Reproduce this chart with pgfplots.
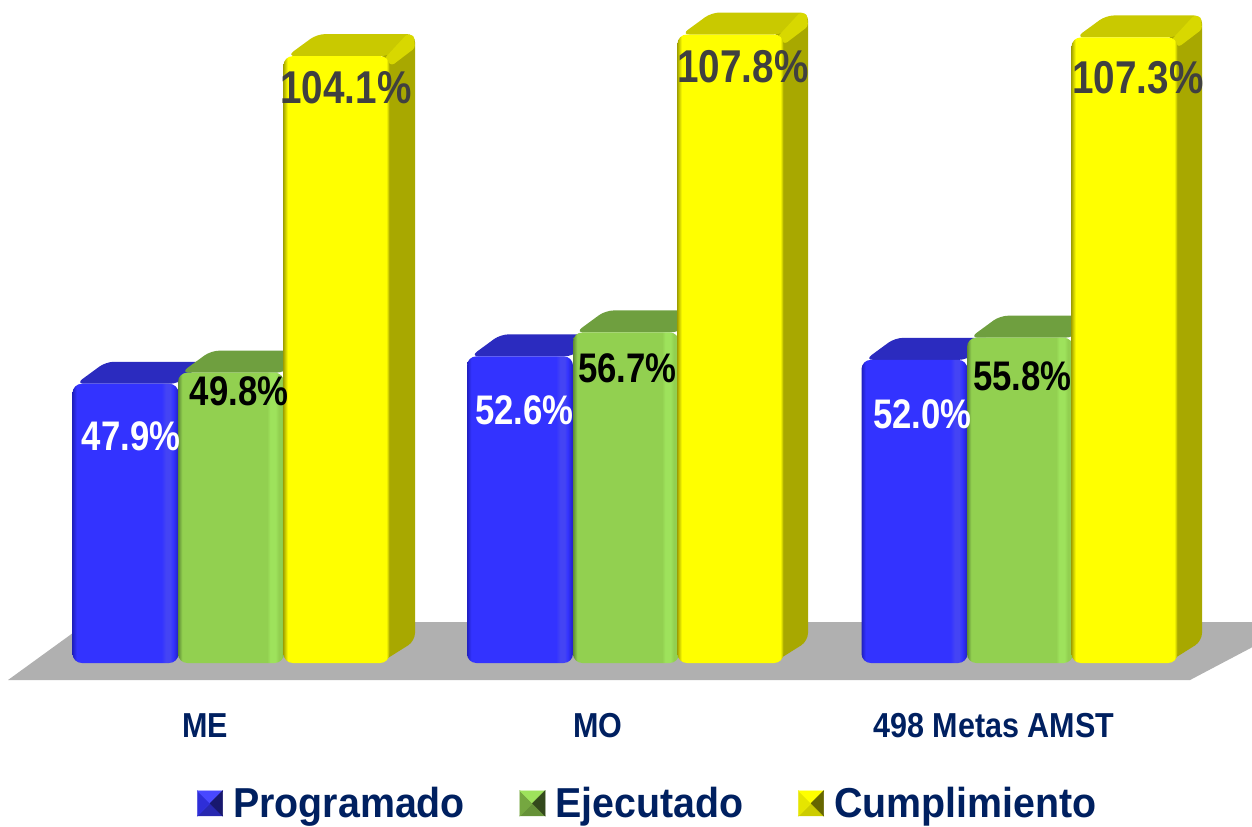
\documentclass[border=0pt]{standalone}
\usepackage{fontspec}
\usepackage{pgfplots}
\pgfplotsset{compat=1.18}
\setmainfont{Liberation Sans}
\newfontfamily\valfont[FakeStretch=0.84]{Liberation Sans}
\newfontfamily\catfont[FakeStretch=0.88]{Liberation Sans}
\newfontfamily\legfont[FakeStretch=0.94]{Liberation Sans}
\definecolor{navy}{HTML}{002060}
\definecolor{bluemain}{HTML}{3333FF}
\definecolor{bluelight}{HTML}{4444F4}
\definecolor{bluedark}{HTML}{2020C0}
\definecolor{bluetop}{HTML}{2B2BBF}
\definecolor{legb}{HTML}{2828B0}
\definecolor{legl}{HTML}{2E2ED8}
\definecolor{legt}{HTML}{4848FF}
\definecolor{legr}{HTML}{18186E}
\definecolor{greenmain}{HTML}{92D050}
\definecolor{greenlight}{HTML}{9EE25C}
\definecolor{greendark}{HTML}{5F8A35}
\definecolor{greentop}{HTML}{6F9F3F}
\definecolor{ymain}{HTML}{FFFF00}
\definecolor{ydark}{HTML}{A8A800}
\definecolor{ytop}{HTML}{C9C900}
\definecolor{ylight}{HTML}{D8D800}
\pgfdeclarehorizontalshading{bluebar}{100bp}{
 color(0bp)=(bluedark);color(25bp)=(bluedark);color(27bp)=(bluemain);
 color(67bp)=(bluemain);color(69bp)=(bluelight);color(71bp)=(bluelight);color(72.5bp)=(bluemain);color(75bp)=(bluedark);color(100bp)=(bluedark)}
\pgfdeclarehorizontalshading{greenbar}{100bp}{
 color(0bp)=(greendark);color(25bp)=(greendark);color(27bp)=(greenmain);
 color(67bp)=(greenmain);color(68.5bp)=(greenlight);color(71bp)=(greenlight);color(72.5bp)=(greenmain);color(74bp)=(greenmain);color(75bp)=(greendark);color(100bp)=(greendark)}
\pgfdeclarehorizontalshading{yellowbar}{100bp}{
 color(0bp)=(ydark);color(25bp)=(ydark);color(27bp)=(ymain);
 color(73.5bp)=(ymain);color(75bp)=(ydark);color(100bp)=(ydark)}
\begin{document}
\begin{tikzpicture}
\useasboundingbox (0,-102pt) rectangle (939pt,517.5pt);
\begin{axis}[
 at={(0,0)},anchor=south west,
 scale only axis,width=939pt,height=517.5pt,
 xmin=0,xmax=1252,ymin=-4.63,ymax=113.72,
 clip=true,
 axis line style={draw=none},
 ytick=\empty,
 xtick={205,598,994},
 xticklabels={ME,MO,498 Metas AMST},
 major tick length=0pt,
 xticklabel style={font=\catfont\bfseries\fontsize{26}{28}\selectfont,text=navy,yshift=-14pt,anchor=north},
 legend columns=3,
 legend style={draw=none,fill=none,at={(144.75pt,-85pt)},anchor=west,
  nodes={inner xsep=4pt,inner ysep=0pt},
  font=\legfont\bfseries\fontsize{31.4}{33}\selectfont,text=navy,
  /tikz/every odd column/.style={},
  /tikz/every even column/.style={column sep=37pt}},
 poly/.style={draw=none,rounded corners=6pt,forget plot},
 bar3/.style={ybar,bar width=79.5pt,bar shift=0pt,draw=none,rounded corners=7pt,forget plot},
 valn/.style 2 args={only marks,mark=none,forget plot,point meta=explicit symbolic,nodes near coords,
  every node near coord/.append style={anchor=center,inner sep=0pt,font=\valfont\bfseries\fontsize{#2}{36}\selectfont,text=#1}},
]
% floor
\addplot[draw=none,fill=black!31,forget plot] coordinates {(8,-2.92)(88,7.03)(1300,7.03)(1190,-2.92)} --cycle;
% blue
\addplot[poly,fill=bluetop] coordinates {(76,47.9)(106,51.67)(204,51.67)(178,47.9)} --cycle;
\addplot[poly,fill=bluetop] coordinates {(470.5,52.6)(500.5,56.37)(598.5,56.37)(572.5,52.6)} --cycle;
\addplot[poly,fill=bluetop] coordinates {(865,52.0)(895,55.77)(993,55.77)(967,52.0)} --cycle;
\addplot[bar3,shading=bluebar] coordinates {(125.5,47.9)};
\addplot[bar3,shading=bluebar] coordinates {(520,52.6)};
\addplot[bar3,shading=bluebar] coordinates {(914.5,52.0)};
% green
\addplot[poly,fill=greentop] coordinates {(181,49.8)(211,53.57)(310,53.57)(284,49.8)} --cycle;
\addplot[poly,fill=greentop] coordinates {(575.5,56.7)(605.5,60.47)(704.5,60.47)(678.5,56.7)} --cycle;
\addplot[poly,fill=greentop] coordinates {(970,55.8)(1000,59.57)(1099,59.57)(1073,55.8)} --cycle;
\addplot[bar3,shading=greenbar] coordinates {(231,49.8)};
\addplot[bar3,shading=greenbar] coordinates {(626,56.7)};
\addplot[bar3,shading=greenbar] coordinates {(1020,55.8)};
% yellow side and top
\addplot[poly,fill=ydark] coordinates {(380,104.1)(415,107.87)(415,3.77)(380,0)} --cycle;
\addplot[poly,fill=ydark] coordinates {(773,107.8)(808,111.57)(808,3.77)(773,0)} --cycle;
\addplot[poly,fill=ydark] coordinates {(1167,107.3)(1202,111.07)(1202,3.77)(1167,0)} --cycle;
\addplot[poly,fill=ytop] coordinates {(287,104.1)(317,107.87)(415,107.87)(389,104.1)} --cycle;
\addplot[poly,fill=ytop] coordinates {(681.5,107.8)(711.5,111.57)(808,111.57)(782,107.8)} --cycle;
\addplot[poly,fill=ytop] coordinates {(1076,107.3)(1106,111.07)(1202,111.07)(1176,107.3)} --cycle;
\addplot[poly,fill=ylight,rounded corners=2pt] coordinates {(384,103.6)(407,107.87)(414,107.6)(415,105.5)(392,102.5)} --cycle;
\addplot[poly,fill=ylight,rounded corners=2pt] coordinates {(777,107.3)(800,111.57)(807,111.3)(808,109.2)(785,106.2)} --cycle;
\addplot[poly,fill=ylight,rounded corners=2pt] coordinates {(1171,106.8)(1194,111.07)(1201,110.8)(1202,108.7)(1179,105.7)} --cycle;
\addplot[bar3,shading=yellowbar] coordinates {(336.5,104.1)};
\addplot[bar3,shading=yellowbar] coordinates {(730.5,107.8)};
\addplot[bar3,shading=yellowbar] coordinates {(1124.5,107.3)};
% value labels
\addplot[valn={white}{31}] coordinates {(131,38.94)[47.9\%] (524.5,43.40)[52.6\%] (922.5,42.71)[52.0\%]};
\addplot[valn={black}{31}] coordinates {(239,46.66)[49.8\%] (627.5,50.60)[56.7\%] (1022.5,49.23)[55.8\%]};
\addplot[valn={black!75}{34.5}] coordinates {(346,98.63)[104.1\%] (743,102.23)[107.8\%] (1138,100.34)[107.3\%]};
% legend
\addlegendimage{legend image code/.code={
 \path (22.55pt,0) circle (0pt);
 \fill[legb] (0,-9.4pt) -- (9.4pt,0) -- (18.8pt,-9.4pt) -- cycle;
 \fill[legl] (0,9.4pt) -- (9.4pt,0) -- (0,-9.4pt) -- cycle;
 \fill[legt] (0,9.4pt) -- (18.8pt,9.4pt) -- (9.4pt,0) -- cycle;
 \fill[legr] (18.8pt,9.4pt) -- (18.8pt,-9.4pt) -- (9.4pt,0) -- cycle;}}
\addlegendentry{Programado}
\addlegendimage{legend image code/.code={
 \path (22.55pt,0) circle (0pt);
 \fill[greenmain!70!black] (0,-9.4pt) -- (9.4pt,0) -- (18.8pt,-9.4pt) -- cycle;
 \fill[greenmain!80!black] (0,9.4pt) -- (9.4pt,0) -- (0,-9.4pt) -- cycle;
 \fill[greenlight] (0,9.4pt) -- (18.8pt,9.4pt) -- (9.4pt,0) -- cycle;
 \fill[greenmain!35!black] (18.8pt,9.4pt) -- (18.8pt,-9.4pt) -- (9.4pt,0) -- cycle;}}
\addlegendentry{Ejecutado}
\addlegendimage{legend image code/.code={
 \path (22.55pt,0) circle (0pt);
 \fill[ymain!80!black] (0,-9.4pt) -- (9.4pt,0) -- (18.8pt,-9.4pt) -- cycle;
 \fill[ymain!90!black] (0,9.4pt) -- (9.4pt,0) -- (0,-9.4pt) -- cycle;
 \fill[ymain] (0,9.4pt) -- (18.8pt,9.4pt) -- (9.4pt,0) -- cycle;
 \fill[ymain!40!black] (18.8pt,9.4pt) -- (18.8pt,-9.4pt) -- (9.4pt,0) -- cycle;}}
\addlegendentry{Cumplimiento}
\end{axis}
\end{tikzpicture}
\end{document}
